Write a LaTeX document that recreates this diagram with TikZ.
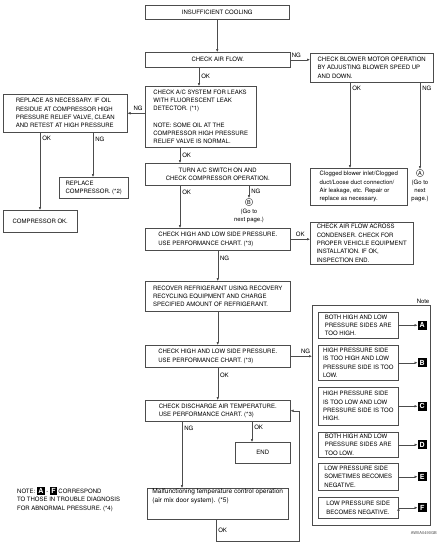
\documentclass[tikz,border=0pt]{standalone}
\usepackage{fontspec}
\setmainfont{TeX Gyre Heros}
\usetikzlibrary{arrows.meta,positioning}
\definecolor{linegray}{gray}{0.3}
\newcommand{\flowfont}{\fontsize{6.0pt}{8.3pt}\selectfont}
\newcommand{\blk}[1]{{\setlength{\fboxsep}{1.3pt}\colorbox{black}{\textcolor{white}{\bfseries\fontsize{7pt}{7pt}\selectfont #1}}}}
\tikzset{
  flow/.style 2 args={draw=linegray, line width=0.5pt, anchor=north west, inner sep=0pt,
    minimum width=#1, minimum height=#2, align=left, font=\flowfont},
  cflow/.style 2 args={flow={#1}{#2}, align=center},
  lbl/.style={font=\flowfont, inner sep=2pt},
  gocirc/.style={draw=linegray, line width=0.5pt, circle, inner sep=0pt, minimum size=7.5pt,
    font=\fontsize{5.5pt}{6pt}\selectfont},
  blkbox/.style={fill=black, text=white, inner sep=0pt, minimum size=9pt,
    font=\bfseries\fontsize{7pt}{7pt}\selectfont}
}

\begin{document}
\begin{tikzpicture}[x=1pt, y=-1pt, >={Latex[length=3pt,width=2.6pt]}]
	\useasboundingbox (0,0) rectangle (445,549);
	% main column
	\node[cflow={144}{14}] (ins) at (145,5) {INSUFFICIENT COOLING};
	\node[cflow={145}{15}] (air) at (145,52) {CHECK AIR FLOW.};
	\node[flow={123}{29}] (blower) at (310,53) {CHECK BLOWER MOTOR OPERATION\\BY ADJUSTING BLOWER SPEED UP\\AND DOWN.};
	\node[flow={111}{61}] (leak) at (145,86) {CHECK A/C SYSTEM FOR LEAKS\\WITH FLUORESCENT LEAK\\DETECTOR. (*1)\\[8.3pt]NOTE: SOME OIL AT THE\\COMPRESSOR HIGH PRESSURE\\RELIEF VALVE IS NORMAL.};
	\node[flow={124}{38}] (replace) at (3,94) {REPLACE AS NECESSARY. IF OIL\\RESIDUE AT COMPRESSOR HIGH\\PRESSURE RELIEF VALVE, CLEAN\\AND RETEST AT HIGH PRESSURE};
	\node[flow={69}{21}] (repcomp) at (59,177) {REPLACE\\COMPRESSOR. (*2)};
	\node[cflow={74}{22}] (compok) at (3,210) {COMPRESSOR OK.};
	\node[cflow={145}{22}] (turn) at (145,163) {TURN A/C SWITCH ON AND\\CHECK COMPRESSOR OPERATION.};
	\node[flow={97}{37}] (clog) at (310,168) {Clogged blower inlet/Clogged\\duct/Loose duct connection/\\Air leakage, etc. Repair or\\replace as necessary.};
	\node[gocirc] (bc) at (249,202) {B};
	\node[lbl, below=0.5pt of bc, align=center] (bgo) {(Go to\\next page.)};
	\node[gocirc] (ac) at (420,173) {A};
	\node[lbl, below=0.5pt of ac, align=center] (ago) {(Go to\\next\\page.)};
	\node[flow={145}{22}] (hl1) at (145,228) {CHECK HIGH AND LOW SIDE PRESSURE.\\USE PERFORMANCE CHART. (*3)};
	\node[flow={103}{42}] (cond) at (310,222) {CHECK AIR FLOW ACROSS\\CONDENSER. CHECK FOR\\PROPER VEHICLE EQUIPMENT\\INSTALLATION. IF OK,\\INSPECTION END.};
	\node[flow={145}{30}] (recover) at (145,281) {RECOVER REFRIGERANT USING RECOVERY\\RECYCLING EQUIPMENT AND CHARGE\\SPECIFIED AMOUNT OF REFRIGERANT.};
	\node[flow={145}{22}] (hl2) at (145,345) {CHECK HIGH AND LOW SIDE PRESSURE.\\USE PERFORMANCE CHART. (*3)};
	\node[flow={145}{21}] (disch) at (145,400) {CHECK DISCHARGE AIR TEMPERATURE.\\USE PERFORMANCE CHART. (*3)};
	\node[cflow={55}{21}] (endb) at (235,442) {END};
	\node[flow={141}{31}, font=\fontsize{6.6pt}{8.3pt}\selectfont] (malf) at (147,488) {Malfunctioning temperature control operation\\(air mix door system). (*5)\\[8.3pt]};
	% note panel
	\node[flow={118}{220}] (note) at (312,305) {};
	\node[lbl, above left, inner sep=1pt] (notelbl) at (note.north east) {Note};
	\node[flow={80}{26}] (na) at (318,312) {BOTH HIGH AND LOW\\PRESSURE SIDES ARE\\TOO HIGH.};
	\node[flow={80}{35}] (nb) at (318,345) {HIGH PRESSURE SIDE\\IS TOO HIGH AND LOW\\PRESSURE SIDE IS TOO\\LOW.};
	\node[flow={80}{38}] (nc) at (318,387) {HIGH PRESSURE SIDE\\IS TOO LOW AND LOW\\PRESSURE SIDE IS TOO\\HIGH.};
	\node[flow={80}{25}] (nd) at (318,432) {BOTH HIGH AND LOW\\PRESSURE SIDES ARE\\TOO LOW.};
	\node[flow={80}{27}] (ne) at (318,463) {LOW PRESSURE SIDE\\SOMETIMES BECOMES\\NEGATIVE.};
	\node[flow={80}{21}] (nf) at (318,497) {LOW PRESSURE SIDE\\BECOMES NEGATIVE.};
	\node[blkbox, right=19pt of na] (sqa) {A};
	\node[blkbox, right=19pt of nb] (sqb) {B};
	\node[blkbox, right=19pt of nc] (sqc) {C};
	\node[blkbox, right=19pt of nd] (sqd) {D};
	\node[blkbox, right=19pt of ne] (sqe) {E};
	\node[blkbox, right=19pt of nf] (sqf) {F};
	% footnotes
	\node[anchor=north west, font=\flowfont, align=left, inner sep=0pt] (abnote) at (17,487) {NOTE: \blk{A} - \blk{F} CORRESPOND\\TO THOSE IN TROUBLE DIAGNOSIS\\FOR ABNORMAL PRESSURE. (*4)};
	\node[anchor=east, font=\fontsize{4pt}{4.5pt}\selectfont, text=black!70, inner sep=0pt] (code) at (437,533) {AWIIA0490GB};
	% connectors
	\path[->, draw=linegray, line width=0.5pt]
	(ins.south) edge (ins.south |- air.north)
	([xshift=54]air.south west) edge node[lbl, right]{OK} ([xshift=54]leak.north west)
	(air.east) edge node[lbl, above, pos=0.3]{NG} (air.east -| blower.west)
	(leak.west |- replace.east) edge node[lbl, above, pos=0.4]{NG} (replace.east)
	([xshift=37]replace.south west) edge node[lbl, right, pos=0.08]{OK} ([xshift=37]compok.north west)
	([xshift=90]replace.south west) edge node[lbl, right, pos=0.15]{NG} ([xshift=34]repcomp.north west)
	([xshift=35]leak.south west) edge node[lbl, right]{OK} ([xshift=35]turn.north west)
	([xshift=35]turn.south west) edge node[lbl, right, pos=0.15]{OK} ([xshift=35]hl1.north west)
	(turn.south -| bc) edge node[lbl, right]{NG} (bc.north)
	([xshift=40]blower.south west) edge node[lbl, right, pos=0.07]{OK} ([xshift=40]clog.north west)
	(blower.south -| ac) edge node[lbl, right, pos=0.07]{NG} (ac.north)
	(hl1.east) edge node[lbl, above]{OK} (hl1.east -| cond.west)
	(hl1.south) edge node[lbl, right, pos=0.25]{NG} (hl1.south |- recover.north)
	(recover.south) edge (recover.south |- hl2.north)
	(hl2.east) edge node[lbl, above, pos=0.7]{NG} (hl2.east -| note.west)
	(hl2.south) edge node[lbl, right, pos=0.25]{OK} (hl2.south |- disch.north)
	([xshift=37]disch.south west) edge node[lbl, right, pos=0.1]{NG} ([xshift=35]malf.north west)
	([xshift=107]disch.south west) edge node[lbl, right, pos=0.3]{OK} ([xshift=17]endb.north west)
	(na.east) edge (sqa.west)
	(nb.east) edge (sqb.west)
	(nc.east) edge (sqc.west)
	(nd.east) edge (sqd.west)
	(ne.east) edge (sqe.west)
	(nf.east) edge (sqf.west);
	\draw[->, draw=linegray, line width=0.5pt] ([xshift=69]malf.south west) |- ([xshift=11,yshift=-22]malf.south east) node[lbl, right, pos=0.25]{OK} |- (disch.east);
\end{tikzpicture}
\end{document}
